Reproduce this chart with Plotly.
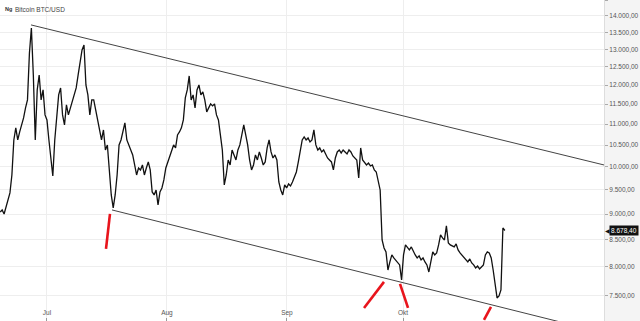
import numpy as np
import pandas as pd
import plotly.graph_objects as go

# ---- data ----
series_start = "2019-06-18 21:53"
prices = [
    9045, 9085, 9004, 9146, 9290, 9436, 9822, 10619, 10909, 10619,
    10811, 10982, 11154, 11406, 11611, 12893, 13632, 12275, 10619, 11873,
    12275, 11611, 11873, 11229, 11104, 10619, 10156, 9800, 10619, 11229,
    11741, 11925, 11229, 10982, 11483, 11229, 11406, 11611, 11741, 11925,
    12275, 12693, 12979, 13124, 12005, 11741, 11229, 11611, 11611, 11355,
    11104, 10859, 10619, 10859, 10385, 10502, 9932, 9394, 9126, 9394,
    9822, 10502, 10619, 10859, 11031, 10619, 10502, 10385, 10270, 10043,
    9822, 9976, 9932, 10043, 9822, 9976, 10111, 9932, 9457, 9394,
    9499, 9187, 9457, 9542, 9713, 9976, 10111, 10270, 10385, 10502,
    10432, 10739, 10811, 10909, 11104, 11663, 11873, 12248, 11611, 11741,
    11406, 11873, 12005, 11741, 11820, 11611, 11305, 11406, 11508, 11457,
    11508, 11229, 11104, 10739, 10385, 9606, 9822, 10156, 10043, 10385,
    10270, 10156, 10385, 10502, 10739, 10982, 10739, 10502, 10156, 9932,
    10043, 10270, 10156, 10339, 10201, 10043, 10111, 10432, 10619, 10339,
    10201, 10270, 10156, 9670, 9499, 9394, 9606, 9542, 9627, 9585,
    9670, 9800, 9888, 10111, 10385, 10619, 10691, 10619, 10667, 10572,
    10619, 10859, 10502, 10385, 10432, 10339, 10385, 10270, 10201, 10156,
    10111, 9932, 10201, 10339, 10385, 10316, 10385, 10339, 10293, 10385,
    10339, 10247, 10201, 10156, 9757, 10432, 10156, 10111, 10043, 10088,
    10021, 10043, 9932, 9888, 9670, 9499, 8497, 8347, 8273, 7947,
    8091, 8218, 8163, 8127, 8091, 8037, 7772, 8218, 8403, 8347,
    8310, 8366, 8273, 8218, 8163, 8200, 8127, 8163, 8091, 8037,
    7912, 8127, 8273, 8218, 8255, 8403, 8592, 8535, 8497, 8767,
    8441, 8403, 8385, 8366, 8422, 8310, 8255, 8218, 8163, 8127,
    8091, 8145, 8073, 8037, 7983, 8019, 7965, 8001, 8037, 8218,
    8273, 8255, 8163, 7947, 7686, 7467, 7500, 7601, 8727, 8678.40,
]
last_price = 8678.40
last_price_label = "8.678,40"

upper_channel_dates = ["2019-06-26 20:50", "2019-11-26 01:30"]
upper_channel_prices = [13724, 9956]
lower_channel_dates = ["2019-07-17 19:10", "2019-11-10 13:25"]
lower_channel_prices = [9085, 7078]

red_marks = [
    (["2019-07-17 06:40", "2019-07-16 06:00"], [9005, 8329]),
    (["2019-09-20 22:05", "2019-09-26 01:55"], [7302, 7739]),
    (["2019-09-30 05:15", "2019-10-02 07:00"], [7705, 7302]),
    (["2019-10-21 22:05", "2019-10-23 17:30"], [7110, 7318]),
]

y_ticks = [7500, 8000, 8500, 9000, 9500, 10000, 10500, 11000, 11500,
           12000, 12500, 13000, 13500, 14000, 14500]
x_tick_dates = ["2019-07-01", "2019-08-01", "2019-09-01", "2019-10-01"]
x_tick_text = ["Jul", "Aug", "Sep", "Okt"]
title_text = "Bitcoin BTC/USD"

times = pd.date_range(start=series_start, periods=len(prices), freq="725min")

fig = go.Figure()

fig.add_trace(go.Scatter(x=upper_channel_dates, y=upper_channel_prices, mode="lines",
                         line=dict(color="#444", width=1), hoverinfo="skip"))
fig.add_trace(go.Scatter(x=lower_channel_dates, y=lower_channel_prices, mode="lines",
                         line=dict(color="#444", width=1), hoverinfo="skip"))

fig.add_trace(go.Scatter(x=times, y=prices, mode="lines",
                         line=dict(color="#111111", width=1.3)))

for d, p in red_marks:
    fig.add_trace(go.Scatter(x=d, y=p, mode="lines",
                             line=dict(color="#e8141c", width=2.6), hoverinfo="skip"))

font_family = "Liberation Sans, Arial, sans-serif"

fig.update_layout(
    width=640, height=321,
    margin=dict(l=0, r=36, t=0, b=0),
    paper_bgcolor="#f4f4f4",
    plot_bgcolor="#ffffff",
    showlegend=False,
    separators=",.",
    font=dict(family=font_family, size=7, color="#555"),
    xaxis=dict(
        type="date",
        range=["2019-06-18 20:38", "2019-11-21 22:20"],
        tickvals=x_tick_dates, ticktext=x_tick_text,
        ticks="inside", ticklen=3, tickcolor="#999",
        ticklabelposition="inside",
        tickfont=dict(size=6.5, color="#555"),
        showgrid=True, gridcolor="#eeeeee", gridwidth=1,
        showline=False, zeroline=False,
    ),
    yaxis=dict(
        type="log",
        range=[3.8508, 4.1616],
        side="right",
        tickvals=y_ticks, tickformat=",.2f",
        ticks="outside", ticklen=3, tickcolor="#aaa",
        tickfont=dict(size=6.5, color="#555"),
        showgrid=True, gridcolor="#eeeeee", gridwidth=1,
        showline=True, linecolor="#dddddd", linewidth=1,
        zeroline=False,
    ),
)

fig.add_annotation(
    xref="paper", yref="paper", x=0, y=1, xanchor="left", yanchor="top",
    xshift=3, yshift=-4, showarrow=False,
    text="<b>Ng</b>", font=dict(size=5.5, color="#333", family=font_family),
)
fig.add_annotation(
    xref="paper", yref="paper", x=0, y=1, xanchor="left", yanchor="top",
    xshift=13, yshift=-4, showarrow=False,
    text=title_text, font=dict(size=6.5, color="#444", family=font_family),
)

# last price tag
fig.add_annotation(
    xref="paper", yref="y", x=1, y=np.log10(last_price), xanchor="right", yanchor="middle",
    xshift=35, showarrow=False,
    text=last_price_label,
    font=dict(size=6.5, color="#ffffff", family=font_family),
    bgcolor="#111111", borderpad=1,
)
fig.add_annotation(
    xref="paper", yref="y", x=1, y=np.log10(last_price), xanchor="left", yanchor="middle",
    xshift=-1, showarrow=False,
    text="◀", font=dict(size=6, color="#111111", family="DejaVu Sans"),
)

fig.write_html("out.html")
